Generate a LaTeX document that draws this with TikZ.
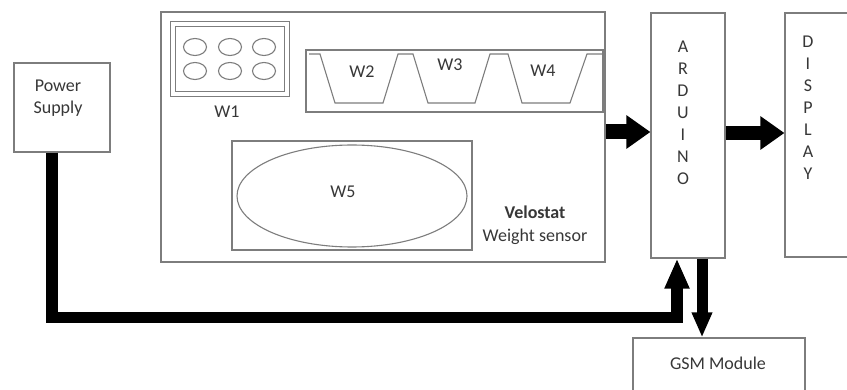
\documentclass[tikz,border=0pt]{standalone}
\usepackage{fontspec}
\setmainfont{Carlito}
\usetikzlibrary{arrows.meta,shapes.geometric}
\definecolor{LineGray}{RGB}{125,125,125}
\definecolor{TextGray}{RGB}{55,55,55}
\tikzset{
  blk/.style={draw=LineGray,line width=1.1pt,inner sep=0pt},
  lbl/.style={text=TextGray,font=\fontsize{18}{22}\selectfont,align=center,inner sep=0pt},
  fat/.style={draw=black,line width=15pt,-{Triangle[width=32pt,length=24pt]}},
  slim/.style={draw=black,line width=11.5pt,line join=miter},
}
\begin{document}
\begin{tikzpicture}[x=1pt,y=-1pt]
    \clip (0,0) rectangle (847,390);
    % boxes
    \node[blk,minimum width=96pt,minimum height=89pt] (psu) at (62,107.5) {};
    \node[blk,minimum width=444pt,minimum height=250pt] (velo) at (383,137) {};
    \node[blk,double,double distance=4pt,minimum width=114pt,minimum height=70pt] (w1) at (230,59) {};
    \node[blk,minimum width=297pt,minimum height=62pt] (cups) at (454.5,81) {};
    \node[blk,minimum width=240pt,minimum height=109pt] (w5box) at (352,195.5) {};
    \node[blk,ellipse,minimum width=230pt,minimum height=102pt] (w5) at (352,196) {};
    \node[blk,minimum width=74pt,minimum height=245pt] (ard) at (688,135.5) {};
    \node[blk,minimum width=100pt,minimum height=244pt] (disp) at (835,135) {};
    \node[blk,minimum width=172pt,minimum height=82pt] (gsm) at (719,379) {};
    % pads of W1
    \foreach \x in {195,230,264}
      \foreach \y in {47,71}
        \node[blk,ellipse,minimum width=23pt,minimum height=17pt] (pad\x\y) at (\x,\y) {};
    % cup profile
    \draw[LineGray,line width=1.1pt] (309,54) -- (320,54) -- (335,103) -- (383,103) -- (398,54)
      -- (413,54) -- (428,103) -- (475,103) -- (490,54) -- (508,54) -- (522,103)
      -- (570,103) -- (587,54) -- (603,54);
    % texts
    \node[lbl] (psutxt) at (58,98) {Power\\Supply};
    \node[lbl] (w1txt) at (227,112) {W1};
    \node[lbl] (w2txt) at (362,72) {W2};
    \node[lbl] (w3txt) at (450,65) {W3};
    \node[lbl] (w4txt) at (543,71) {W4};
    \node[lbl] (w5txt) at (343,192) {W5};
    \node[lbl,font=\fontsize{18}{22}\selectfont\bfseries] (velotxt) at (535,212) {Velostat};
    \node[lbl] (senstxt) at (535,237) {Weight sensor};
    \node[lbl] (ardtxt) at (683,112.5) {A\\R\\D\\U\\I\\N\\O};
    \node[lbl] (disptxt) at (808,107.5) {D\\I\\S\\P\\L\\A\\Y};
    \node[lbl] (gsmtxt) at (718,363) {GSM Module};
    % connectors
    \draw[fat] ([yshift=5pt]velo.east) -- ([yshift=5pt]velo.east -| ard.west);
    \draw[fat,line width=14pt] ([yshift=2.5pt]ard.east) -- ([yshift=2.5pt]ard.east -| disp.west);
    \draw[slim,-{Triangle[width=23pt,length=30pt]}] ([xshift=-10pt]psu.south) -- ++(0,165)
      -| ([xshift=-11pt]ard.south);
    \draw[slim,line width=11pt,-{Triangle[width=19pt,length=25pt]}] ([xshift=14pt]ard.south)
      -- ([xshift=14pt]ard.south |- gsm.north);
\end{tikzpicture}
\end{document}
